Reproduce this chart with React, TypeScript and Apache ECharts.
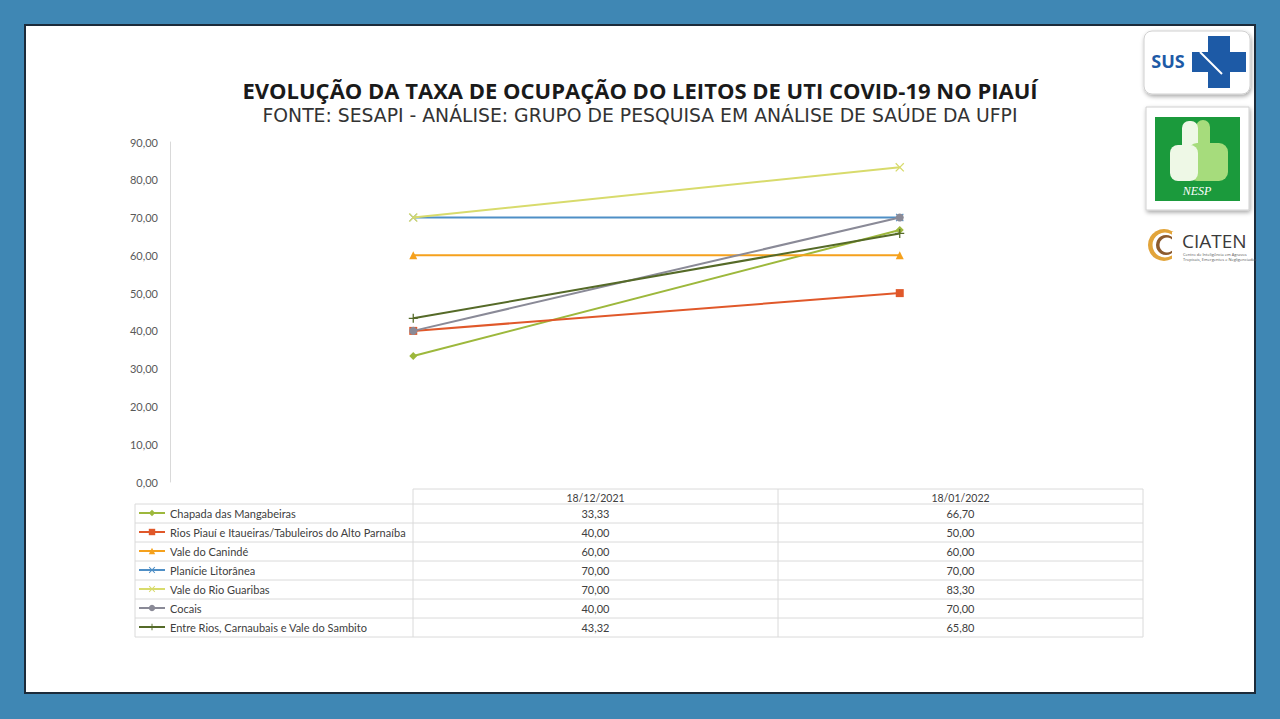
import React, { useEffect, useRef } from "react";
import * as echarts from "echarts";

const categories = ["18/12/2021", "18/01/2022"];
const seriesNames = [
  "Chapada das Mangabeiras",
  "Rios Piauí e Itaueiras/Tabuleiros do Alto Parnaíba",
  "Vale do Canindé",
  "Planície Litorânea",
  "Vale do Rio Guaribas",
  "Cocais",
  "Entre Rios, Carnaubais e Vale do Sambito",
];
const chapada = [33.33, 66.7];
const riosPiaui = [40.0, 50.0];
const valeCaninde = [60.0, 60.0];
const planicie = [70.0, 70.0];
const valeGuaribas = [70.0, 83.3];
const cocais = [40.0, 70.0];
const entreRios = [43.32, 65.8];
const seriesValues = [chapada, riosPiaui, valeCaninde, planicie, valeGuaribas, cocais, entreRios];
const yTicks = [0, 10, 20, 30, 40, 50, 60, 70, 80, 90];

const X_PATH = "path://M1,0L5,4L9,0L10,1L6,5L10,9L9,10L5,6L1,10L0,9L4,5L0,1Z";
const PLUS_PATH = "path://M4.3,0H5.7V4.3H10V5.7H5.7V10H4.3V5.7H0V4.3H4.3Z";
const colors = ["#9db83c", "#e0582a", "#f5a11d", "#4f8fc6", "#d8db6c", "#8a8a97", "#556a28"];
const symbols = ["diamond", "rect", "triangle", X_PATH, X_PATH, "circle", PLUS_PATH];
const symbolSizes = [8, 8, 8, 8, 9, 8, 9];

const fmt = (v: number) => v.toFixed(2).replace(".", ",");

const GRID_L = 170;
const GRID_R = 1143;
const GRID_T = 142;
const GRID_B = 482;
const TABLE_L = 135;
const TABLE_COLS = [413, 778, 1143];
const HEAD_T = 489;
const ROW_T = 504;
const ROW_H = 19;
const FONT = "Lato, 'Open Sans', sans-serif";

function buildTable(): any[] {
  const els: any[] = [];
  const lineStyle = { stroke: "#dadada", lineWidth: 1 };
  const right = TABLE_COLS[TABLE_COLS.length - 1];
  const bottom = ROW_T + ROW_H * seriesNames.length;
  els.push({ type: "line", shape: { x1: TABLE_COLS[0], y1: HEAD_T, x2: right, y2: HEAD_T }, style: lineStyle });
  for (let i = 0; i <= seriesNames.length; i++) {
    const y = ROW_T + ROW_H * i;
    els.push({ type: "line", shape: { x1: TABLE_L, y1: y, x2: right, y2: y }, style: lineStyle });
  }
  els.push({ type: "line", shape: { x1: TABLE_L, y1: ROW_T, x2: TABLE_L, y2: bottom }, style: lineStyle });
  TABLE_COLS.forEach((x) => {
    els.push({ type: "line", shape: { x1: x, y1: HEAD_T, x2: x, y2: bottom }, style: lineStyle });
  });
  categories.forEach((cat, c) => {
    const cx = (TABLE_COLS[c] + TABLE_COLS[c + 1]) / 2;
    els.push({
      type: "text",
      style: { text: cat, x: cx, y: (HEAD_T + ROW_T) / 2 + 1, align: "center", verticalAlign: "middle", fontSize: 10.5, fontFamily: FONT, fill: "#404040" },
    });
    seriesValues.forEach((vals, i) => {
      els.push({
        type: "text",
        style: { text: fmt(vals[c]), x: cx, y: ROW_T + ROW_H * i + ROW_H / 2, align: "center", verticalAlign: "middle", fontSize: 11, fontFamily: FONT, fill: "#404040" },
      });
    });
  });
  return els;
}

function buildLogos(): any[] {
  const els: any[] = [];
  // SUS
  els.push({
    type: "rect",
    shape: { x: 1144, y: 31, width: 106, height: 63, r: 8 },
    style: { fill: "#ffffff", stroke: "#d0d0d0", lineWidth: 1, shadowBlur: 4, shadowColor: "rgba(0,0,0,0.35)", shadowOffsetX: 1, shadowOffsetY: 2 },
  });
  els.push({
    type: "text",
    style: { text: "SUS", x: 1168, y: 61, align: "center", verticalAlign: "middle", fontSize: 18, fontWeight: "bold", fontFamily: "'Open Sans', sans-serif", fill: "#1d5aa6" },
  });
  els.push({ type: "rect", shape: { x: 1208, y: 36, width: 22, height: 52 }, style: { fill: "#1d5aa6" } });
  els.push({ type: "rect", shape: { x: 1192, y: 52, width: 54, height: 20 }, style: { fill: "#1d5aa6" } });
  els.push({ type: "line", shape: { x1: 1200, y1: 52, x2: 1222, y2: 74 }, style: { stroke: "#ffffff", lineWidth: 2 } });
  // NESP
  els.push({
    type: "rect",
    shape: { x: 1146, y: 107, width: 103, height: 103 },
    style: { fill: "#ffffff", stroke: "#d0d0d0", lineWidth: 1, shadowBlur: 4, shadowColor: "rgba(0,0,0,0.35)", shadowOffsetX: 1, shadowOffsetY: 2 },
  });
  els.push({ type: "rect", shape: { x: 1155, y: 117, width: 85, height: 84 }, style: { fill: "#1b9a3c" } });
  els.push({ type: "rect", shape: { x: 1196, y: 120, width: 14, height: 32, r: 7 }, style: { fill: "#a6dc7c" } });
  els.push({ type: "rect", shape: { x: 1182, y: 121, width: 16, height: 34, r: 7 }, style: { fill: "#eef8e6" } });
  els.push({ type: "rect", shape: { x: 1188, y: 143, width: 40, height: 38, r: 9 }, style: { fill: "#a6dc7c" } });
  els.push({ type: "rect", shape: { x: 1170, y: 145, width: 28, height: 36, r: 8 }, style: { fill: "#eef8e6" } });
  els.push({
    type: "text",
    style: { text: "NESP", x: 1197, y: 191, align: "center", verticalAlign: "middle", fontSize: 12, fontStyle: "italic", fontFamily: "'Liberation Serif', serif", fill: "#ffffff" },
  });
  // CIATEN
  els.push({ type: "circle", shape: { cx: 1164, cy: 245, r: 16 }, style: { fill: "#e2a43a" } });
  els.push({ type: "circle", shape: { cx: 1165, cy: 245, r: 12.5 }, style: { fill: "#ffffff" } });
  els.push({ type: "circle", shape: { cx: 1166, cy: 245, r: 10 }, style: { fill: "#8c5a2e" } });
  els.push({ type: "circle", shape: { cx: 1167, cy: 245, r: 7.5 }, style: { fill: "#ffffff" } });
  els.push({ type: "rect", shape: { x: 1172, y: 232, width: 10, height: 27 }, style: { fill: "#ffffff" } });
  els.push({
    type: "text",
    style: { text: "CIATEN", x: 1182, y: 241, align: "left", verticalAlign: "middle", fontSize: 19, fontFamily: "'Open Sans', sans-serif", fill: "#3a3a3a" },
  });
  els.push({
    type: "text",
    style: { text: "Centro de Inteligência em Agravos", x: 1183, y: 254, align: "left", verticalAlign: "middle", fontSize: 4, fontFamily: "'Open Sans', sans-serif", fill: "#555555" },
  });
  els.push({
    type: "text",
    style: { text: "Tropicais, Emergentes e Negligenciados", x: 1183, y: 259, align: "left", verticalAlign: "middle", fontSize: 4, fontFamily: "'Open Sans', sans-serif", fill: "#555555" },
  });
  return els;
}

export default function App() {
  const ref = useRef<HTMLDivElement>(null);
  useEffect(() => {
    document.body.style.margin = "0";
    if (!ref.current) return;
    const chart = echarts.init(ref.current, null, { renderer: "svg" });
    const option: any = {
      animation: false,
      backgroundColor: "#3f87b4",
      title: [
        {
          text: "EVOLUÇÃO DA TAXA DE OCUPAÇÃO DO LEITOS DE UTI COVID-19 NO PIAUÍ",
          left: "center",
          top: 74,
          textStyle: { fontSize: 22, fontWeight: "bold", fontFamily: "'Open Sans', sans-serif", color: "#1a1a1a" },
        },
        {
          text: "FONTE: SESAPI - ANÁLISE: GRUPO DE PESQUISA EM ANÁLISE DE SAÚDE DA UFPI",
          left: "center",
          top: 101,
          textStyle: { fontSize: 18.8, fontWeight: "normal", fontFamily: "'DejaVu Sans', sans-serif", color: "#333333" },
        },
      ],
      grid: { left: GRID_L, right: 1280 - GRID_R, top: GRID_T, bottom: 719 - GRID_B, containLabel: false },
      legend: {
        orient: "vertical",
        left: 138,
        top: ROW_T + 2,
        padding: 0,
        itemWidth: 26,
        itemHeight: 8,
        itemGap: 5,
        selectedMode: false,
        textStyle: { fontSize: 11, lineHeight: 14, fontFamily: FONT, color: "#404040" },
        data: seriesNames,
      },
      xAxis: {
        type: "category",
        data: categories,
        boundaryGap: true,
        axisLine: { show: false },
        axisTick: { show: false },
        axisLabel: { show: false },
        splitLine: { show: false },
      },
      yAxis: {
        type: "value",
        min: 0,
        max: 90,
        interval: 10,
        axisLine: { show: true, lineStyle: { color: "#d9d9d9", width: 1 } },
        axisTick: { show: false },
        splitLine: { show: false },
        axisLabel: {
          margin: 12,
          fontSize: 11,
          fontFamily: FONT,
          color: "#595959",
          formatter: (v: number) => (yTicks.includes(v) ? fmt(v) : ""),
        },
      },
      series: seriesNames.map((name, i) => ({
        name,
        type: "line",
        data: seriesValues[i],
        symbol: symbols[i],
        symbolSize: symbolSizes[i],
        showAllSymbol: true,
        lineStyle: { width: 2, color: colors[i] },
        itemStyle: { color: colors[i] },
        z: 2 + i * 0.01,
      })),
      graphic: [
        {
          type: "rect",
          z: -10,
          shape: { x: 25, y: 25, width: 1230, height: 668 },
          style: { fill: "#ffffff", stroke: "#1c2b3a", lineWidth: 2 },
        },
        ...buildTable(),
        ...buildLogos(),
      ],
    };
    chart.setOption(option);
    return () => chart.dispose();
  }, []);
  return <div ref={ref} style={{ position: "fixed", left: 0, top: 0, width: 1280, height: 719 }} />;
}
